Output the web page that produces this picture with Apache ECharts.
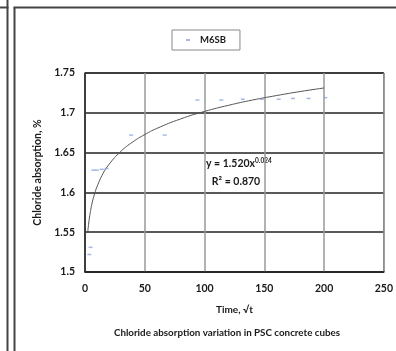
<!DOCTYPE html>
<html>
<head>
<meta charset="utf-8">
<script src="https://cdn.jsdelivr.net/npm/echarts@6/dist/echarts.min.js"></script>
<style>
  html, body { margin: 0; padding: 0; background: #fff; }
  #chart { width: 396px; height: 351px; }
</style>
</head>
<body>
<div id="chart"></div>
<script>
// Measured chloride absorption (%) against time (√t) for the M6SB mix
const seriesName = 'M6SB';
const timeValues = [3.6, 4.7, 7, 10, 14, 18, 38.6, 66.7, 94, 114, 132, 148, 162, 174, 187, 201];
const absorptionValues = [1.522, 1.531, 1.628, 1.628, 1.629, 1.630, 1.672, 1.672, 1.716, 1.716, 1.717, 1.717, 1.717, 1.718, 1.718, 1.719];

// Power trend line, sampled along the fitted curve
const trendTime = [2.3, 3, 4, 6, 8, 10, 15, 20, 30, 40, 50, 60, 80, 100, 120, 140, 160, 180, 200];
const trendValues = [1.550, 1.560, 1.571, 1.587, 1.598, 1.607, 1.6235, 1.635, 1.6516, 1.6634, 1.6727, 1.6803, 1.6923, 1.7017, 1.7094, 1.716, 1.7216, 1.7267, 1.7312];

// Axis ticks
const xTicks = { min: 0, max: 250, interval: 50 };
const yTicks = { min: 1.5, max: 1.75, interval: 0.05 };

const equationText = ['y = 1.520x', '0.024'];
const rSquaredText = 'R² = 0.870';
const captionText = 'Chloride absorption variation in PSC concrete cubes';

const FONT = 'Lato, "Open Sans", sans-serif';
const INK = '#1a1a1a';

const chart = echarts.init(document.getElementById('chart'), null, { renderer: 'canvas' });

chart.setOption({
  animation: false,
  backgroundColor: '#ffffff',
  grid: {
    left: 85, right: 12, top: 73, bottom: 79,
    show: true, borderColor: '#222', borderWidth: 1, backgroundColor: 'transparent'
  },
  legend: {
    left: 172, top: 30,
    data: [{ name: seriesName, icon: 'rect' }],
    itemWidth: 4, itemHeight: 2, itemGap: 0,
    padding: [5, 14, 5, 14],
    borderColor: '#888', borderWidth: 1,
    textStyle: { fontFamily: FONT, fontSize: 9.5, fontWeight: 'bold', color: INK, padding: [0, 0, 0, 5] }
  },
  xAxis: {
    type: 'value',
    min: xTicks.min, max: xTicks.max, interval: xTicks.interval,
    name: 'Time, √t',
    nameLocation: 'middle',
    nameGap: 33,
    nameTextStyle: { fontFamily: FONT, fontSize: 10, fontWeight: 'bold', color: INK },
    axisLine: { show: true, onZero: false, lineStyle: { color: '#222', width: 1.5 } },
    axisTick: { show: false },
    axisLabel: { margin: 11, fontFamily: FONT, fontSize: 10.5, fontWeight: 'bold', color: INK },
    splitLine: { show: true, lineStyle: { color: '#999', width: 1.5 } }
  },
  yAxis: {
    type: 'value',
    min: yTicks.min, max: yTicks.max, interval: yTicks.interval,
    name: 'Chloride absorption, %',
    nameLocation: 'middle',
    nameGap: 42,
    nameTextStyle: { fontFamily: FONT, fontSize: 10.5, fontWeight: 'bold', color: INK },
    axisLine: { show: true, lineStyle: { color: '#222', width: 1.5 } },
    axisTick: { show: false },
    axisLabel: {
      margin: 10, fontFamily: FONT, fontSize: 10.5, fontWeight: 'bold', color: INK,
      formatter: v => String(parseFloat(v.toFixed(2)))
    },
    splitLine: { show: true, lineStyle: { color: '#222', width: 1.5 } }
  },
  series: [
    {
      name: seriesName,
      type: 'scatter',
      data: timeValues.map((t, i) => [t, absorptionValues[i]]),
      symbol: 'rect',
      symbolSize: [4, 1.5],
      itemStyle: { color: '#8fa6e3' },
      z: 3
    },
    {
      name: 'trend',
      type: 'line',
      data: trendTime.map((t, i) => [t, trendValues[i]]),
      smooth: true,
      showSymbol: false,
      lineStyle: { color: '#555', width: 1 },
      z: 2
    }
  ],
  graphic: [
    // panel frames
    { type: 'line', shape: { x1: 7.5, y1: 0, x2: 7.5, y2: 351 }, style: { stroke: '#444', lineWidth: 2 } },
    { type: 'line', shape: { x1: 0, y1: 7.5, x2: 8.5, y2: 7.5 }, style: { stroke: '#444', lineWidth: 2 } },
    { type: 'line', shape: { x1: 14.5, y1: 7.5, x2: 14.5, y2: 351 }, style: { stroke: '#444', lineWidth: 2 } },
    { type: 'line', shape: { x1: 13.5, y1: 7.5, x2: 396, y2: 7.5 }, style: { stroke: '#444', lineWidth: 2 } },
    // trend equation
    {
      type: 'text',
      style: {
        x: 206, y: 157,
        text: '{a|' + equationText[0] + '}{s|' + equationText[1] + '}',
        rich: {
          a: { fontFamily: FONT, fontSize: 10.5, fontWeight: 'bold', fill: INK, verticalAlign: 'bottom' },
          s: { fontFamily: FONT, fontSize: 6.5, fontWeight: 'bold', fill: INK, verticalAlign: 'top', padding: [0, 0, 5, 0] }
        }
      }
    },
    {
      type: 'text',
      style: {
        x: 236, y: 176, text: rSquaredText, align: 'center',
        fontFamily: FONT, fontSize: 10.5, fontWeight: 'bold', fill: INK
      }
    },
    {
      type: 'text',
      style: {
        x: 227, y: 328, text: captionText, align: 'center',
        fontFamily: FONT, fontSize: 9.8, fontWeight: 'bold', fill: INK
      }
    }
  ]
});
</script>
</body>
</html>
